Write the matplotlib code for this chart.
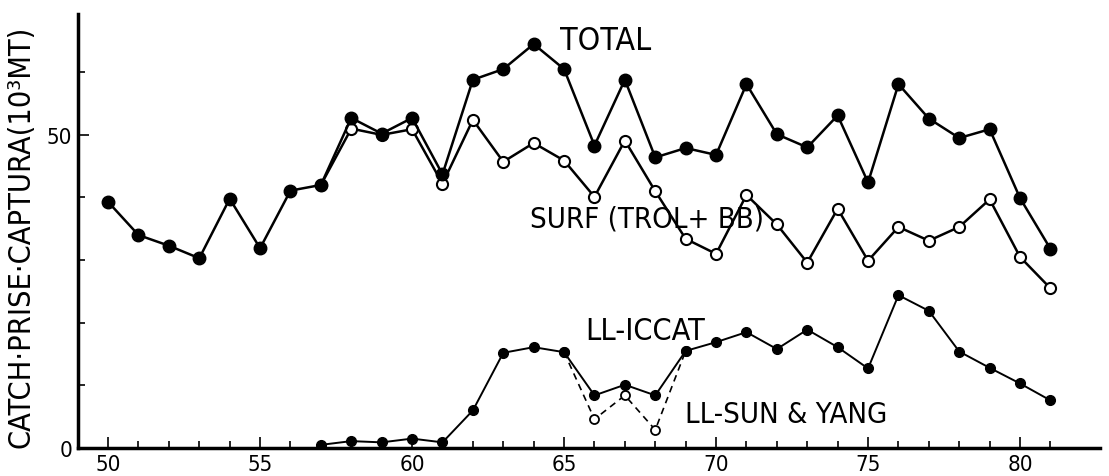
import matplotlib
matplotlib.use("Agg")
import matplotlib.pyplot as plt
import numpy as np

plt.rcParams['font.family'] = ['DejaVu Sans']
plt.rcParams['font.stretch'] = 'condensed'

# ---- data ----
years_total = list(range(1950, 1982))
total = [39.3, 34.0, 32.3, 30.3, 39.8, 31.9, 41.1, 42.0, 52.7, 50.2, 52.7, 43.7,
         58.8, 60.5, 64.5, 60.5, 48.3, 58.8, 46.4, 47.9, 46.8, 58.1, 50.1, 48.0,
         53.1, 42.4, 58.1, 52.6, 49.5, 50.9, 39.9, 31.8]

years_surf = list(range(1957, 1982))
surf = [42.0, 51.0, 50.0, 50.9, 42.2, 52.4, 45.7, 48.7, 45.9, 40.1, 49.1, 41.0,
        33.4, 31.0, 40.4, 35.7, 29.6, 38.2, 29.9, 35.3, 33.1, 35.3, 39.7, 30.5, 25.5]

years_ll = list(range(1957, 1982))
ll_iccat = [0.5, 1.1, 0.9, 1.5, 0.9, 6.0, 15.2, 16.1, 15.3, 8.4, 10.1, 8.4, 15.5,
            16.9, 18.5, 15.8, 18.9, 16.1, 12.7, 24.4, 21.9, 15.4, 12.8, 10.3, 7.6]

years_sy = [1965, 1966, 1967, 1968, 1969]
ll_sunyang = [15.3, 4.6, 8.4, 2.9, 15.5]

x_ticklabels = ['50', '55', '60', '65', '70', '75', '80']

# ---- figure ----
fig = plt.figure(figsize=(11.09, 4.77), dpi=100)
ax = fig.add_axes([78/1109, 1-449/477, (1100-78)/1109, (449-15)/477])

def yr(v):
    return [y - 1900 for y in v]

ax.plot(yr(years_sy), ll_sunyang, color='black', lw=1.2, ls=(0, (4, 3)),
        marker='o', ms=6.5, mfc='white', mec='black', mew=1.3, zorder=3)
ax.plot(yr(years_ll), ll_iccat, color='black', lw=1.4, marker='o', ms=7,
        mfc='black', mec='black', zorder=4)
ax.plot(yr(years_surf), surf, color='black', lw=1.8, marker='o', ms=8,
        mfc='white', mec='black', mew=1.5, zorder=5)
ax.plot(yr(years_total), total, color='black', lw=1.8, marker='o', ms=9,
        mfc='black', mec='black', zorder=6)

ax.set_xlim(49.01, 82.63)
ax.set_ylim(0, 69.3)

for s in ['top', 'right']:
    ax.spines[s].set_visible(False)
ax.spines['left'].set_linewidth(2.5)
ax.spines['bottom'].set_linewidth(2.5)

ax.set_xticks(list(range(50, 82)), minor=True)
ax.set_xticks([int(t) for t in x_ticklabels])
ax.set_xticklabels(x_ticklabels)
ax.set_yticks([0, 50])
ax.set_yticklabels(['0', '50'])
ax.set_yticks([10, 20, 30, 40, 60], minor=True)
ax.tick_params(axis='both', which='major', direction='in', length=8, width=1.2,
               labelsize=16, pad=4)
ax.tick_params(axis='both', which='minor', direction='in', length=5, width=1.2)

tx = lambda px: 49.01 + (px - 78) / 30.4
ty = lambda py: (449 - py) / 6.26
lab_kw = dict(ha='left', va='center', color='black', fontstretch='condensed',
              fontweight='medium')
ax.text(tx(560), ty(42), 'TOTAL', fontsize=23, **lab_kw)
ax.text(tx(530), ty(220), 'SURF (TROL+ BB)', fontsize=21, **lab_kw)
ax.text(tx(585), ty(332), 'LL-ICCAT', fontsize=22, **lab_kw)
ax.text(tx(685), ty(415), 'LL-SUN & YANG', fontsize=21, **lab_kw)

fig.text(21/1109, 1-237/477, 'CATCH·PRISE·CAPTURA(10³MT)', rotation=90,
         ha='center', va='center', fontsize=22, fontstretch='condensed')

fig.savefig('out.png', dpi=100)
